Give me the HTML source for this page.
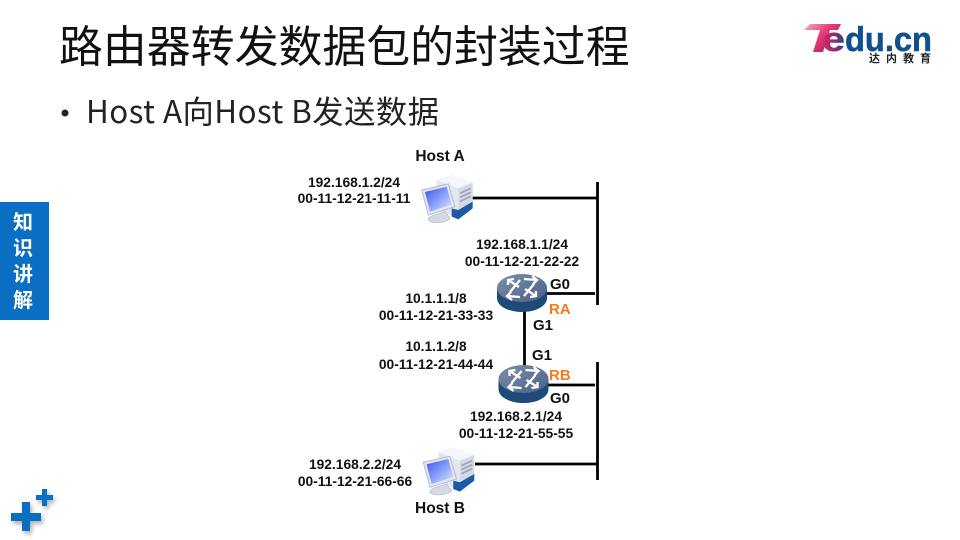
<!DOCTYPE html>
<html lang="zh">
<head>
<meta charset="utf-8">
<style>
html,body{margin:0;padding:0;background:#fff}
body{width:960px;height:540px;overflow:hidden;position:relative}
svg{position:absolute;left:0;top:0}
.c{font-family:"Noto Sans CJK SC","Liberation Sans",sans-serif}
.l{font-family:"Liberation Sans",sans-serif;font-weight:700;font-size:13.8px;fill:#111;text-anchor:middle}
.g{font-size:15px;text-anchor:start}
.o{font-size:15px;fill:#f47c20;text-anchor:start}
.h{font-size:15.5px}
</style>
</head>
<body>
<svg width="960" height="540" viewBox="0 0 960 540" xmlns="http://www.w3.org/2000/svg">
<defs>
<linearGradient id="pk" x1="0" y1="0" x2="1" y2="0.8"><stop offset="0" stop-color="#f7b3c8"/><stop offset=".45" stop-color="#e5407a"/><stop offset="1" stop-color="#b3104f"/></linearGradient>
<linearGradient id="eg" x1="0" y1="0" x2="1" y2="0"><stop offset="0" stop-color="#d92a6b"/><stop offset=".6" stop-color="#8d2a70"/><stop offset="1" stop-color="#10508f"/></linearGradient>
<linearGradient id="scr" x1="0" y1="0" x2="1" y2="1"><stop offset="0" stop-color="#3552e6"/><stop offset=".55" stop-color="#8ea6fb"/><stop offset="1" stop-color="#e2e8ff"/></linearGradient>
<linearGradient id="rt" x1="0" y1="0" x2="1" y2="1"><stop offset="0" stop-color="#7c8eac"/><stop offset="1" stop-color="#4a6288"/></linearGradient>
<filter id="bl" x="-30%" y="-30%" width="160%" height="160%"><feGaussianBlur stdDeviation="2"/></filter>
<g id="pc" transform="scale(.3333)">
  <path d="M110 60 L155 45 L218 68 L218 140 L175 175 L110 150 Z" fill="#e4e7f0"/>
  <path d="M110 60 L155 45 L218 68 L175 85 Z" fill="#f5f6fb"/>
  <path d="M175 85 L218 68 L218 130 L175 155 Z" fill="#d5d9e5"/>
  <path d="M180 100 L212 85 M180 112 L212 97 M180 124 L212 109" stroke="#9aa2b6" stroke-width="5" fill="none"/>
  <path d="M155 145 L175 150 L218 125 L218 145 L175 178 L155 170 Z" fill="#1c5aa8"/>
  <path d="M65 90 L145 72 L165 140 L85 165 Z" fill="#e3e6f0" stroke="#b5bbcd" stroke-width="3"/>
  <path d="M75 96 L140 80 L155 134 L90 155 Z" fill="url(#scr)"/>
  <path d="M100 166 L135 155 L145 168 Q160 178 130 186 Q95 192 84 180 Q84 172 100 166 Z" fill="#d5d9e5" stroke="#b5bbcd" stroke-width="2"/>
</g>
<g id="rtr">
  <path d="M-25 0 V10 C-25 19 -12 24 0 24 C12 24 25 19 25 10 V0 Z" fill="#1d4a78"/>
  <ellipse cx="0" cy="0" rx="25" ry="14" fill="url(#rt)"/>
  <g fill="none" stroke="#fff" stroke-width="2.3">
    <path d="M-14 -8 L-3 -1"/><path d="M-14 -3 L-14 -8 L-8 -9"/>
    <path d="M2 -9 L15 -8"/><path d="M10 -12 L15 -8 L11 -4"/>
    <path d="M-2 9 L-15 8"/><path d="M-10 12 L-15 8 L-11 4"/>
    <path d="M14 8 L3 1"/><path d="M14 3 L14 8 L8 9"/>
    <path d="M-2 -8 L-12 4"/><path d="M2 8 L12 -4"/>
  </g>
</g>
</defs>

<!-- title -->
<text class="c" x="59" y="62" font-size="43.9" fill="#111">路由器转发数据包的封装过程</text>
<circle cx="65" cy="113" r="3.5" fill="#222"/>
<text class="c" x="86" y="123" font-size="31.3" fill="#222" textLength="353" lengthAdjust="spacing">Host A向Host B发送数据</text>

<!-- logo -->
<path d="M804 30 L810 24 L841 24 L838 30 L830 30 L823 52 L813 52 L820 30 Z" fill="url(#pk)"/>
<text x="822" y="51" font-family="Liberation Sans" font-weight="700" font-size="34" fill="url(#eg)" stroke="url(#eg)" stroke-width=".5" textLength="23" lengthAdjust="spacingAndGlyphs">e</text>
<text x="845" y="51" font-family="Liberation Sans" font-weight="700" font-size="34" fill="#10508f" stroke="#10508f" stroke-width=".5" textLength="87" lengthAdjust="spacingAndGlyphs">du.cn</text>
<text class="c" x="869" y="62" font-size="11" font-weight="700" fill="#222" textLength="62">达内教育</text>

<!-- side tab -->
<rect x="0" y="202" width="49" height="118" fill="#0a6fc2"/>
<g class="c" font-size="20" font-weight="700" fill="#fff" text-anchor="middle">
<text x="23" y="229">知</text>
<text x="23" y="255">识</text>
<text x="23" y="281">讲</text>
<text x="23" y="307">解</text>
</g>

<!-- plus icons -->
<g fill="#555" opacity=".45" filter="url(#bl)">
<path d="M22 502 H30 V513 H41 V521 H30 V531 H22 V521 H11 V513 H22 Z" transform="translate(2,3)"/>
<path d="M42 489 H47 V495 H53 V500 H47 V506 H42 V500 H36 V495 H42 Z" transform="translate(2,3)"/>
</g>
<path d="M22 502 H30 V513 H41 V521 H30 V531 H22 V521 H11 V513 H22 Z" fill="#0a6fc2"/>
<path d="M42 489 H47 V495 H53 V500 H47 V506 H42 V500 H36 V495 H42 Z" fill="#0a6fc2"/>

<!-- lines -->
<g stroke="#000" fill="none" stroke-width="2.8">
<path d="M597.5 182 V305"/>
<path d="M597.5 362 V480"/>
<path d="M472 198 H597"/>
<path d="M475 464 H597"/>
<path d="M546 293.5 H595"/>
<path d="M547 385 H595"/>
<path d="M524.5 308 V370"/>
</g>

<!-- devices -->
<use href="#pc" x="400" y="160"/>
<use href="#pc" x="401.6" y="432.3"/>
<use href="#rtr" x="522" y="288"/>
<use href="#rtr" x="523.5" y="379"/>

<!-- labels -->
<text class="l h" x="440" y="161">Host A</text>
<text class="l" x="354" y="187">192.168.1.2/24</text>
<text class="l" x="354" y="203">00-11-12-21-11-11</text>
<text class="l" x="522" y="249">192.168.1.1/24</text>
<text class="l" x="522" y="266">00-11-12-21-22-22</text>
<text class="l g" x="550" y="289">G0</text>
<text class="l o" x="549" y="314">RA</text>
<text class="l g" x="533" y="330">G1</text>
<text class="l" x="436" y="303">10.1.1.1/8</text>
<text class="l" x="436" y="320">00-11-12-21-33-33</text>
<text class="l" x="436" y="351">10.1.1.2/8</text>
<text class="l" x="436" y="369">00-11-12-21-44-44</text>
<text class="l g" x="532" y="360">G1</text>
<text class="l o" x="549" y="380">RB</text>
<text class="l g" x="550" y="403">G0</text>
<text class="l" x="516" y="421">192.168.2.1/24</text>
<text class="l" x="516" y="438">00-11-12-21-55-55</text>
<text class="l" x="355" y="469">192.168.2.2/24</text>
<text class="l" x="355" y="486">00-11-12-21-66-66</text>
<text class="l h" x="440" y="513">Host B</text>
</svg>
</body>
</html>
